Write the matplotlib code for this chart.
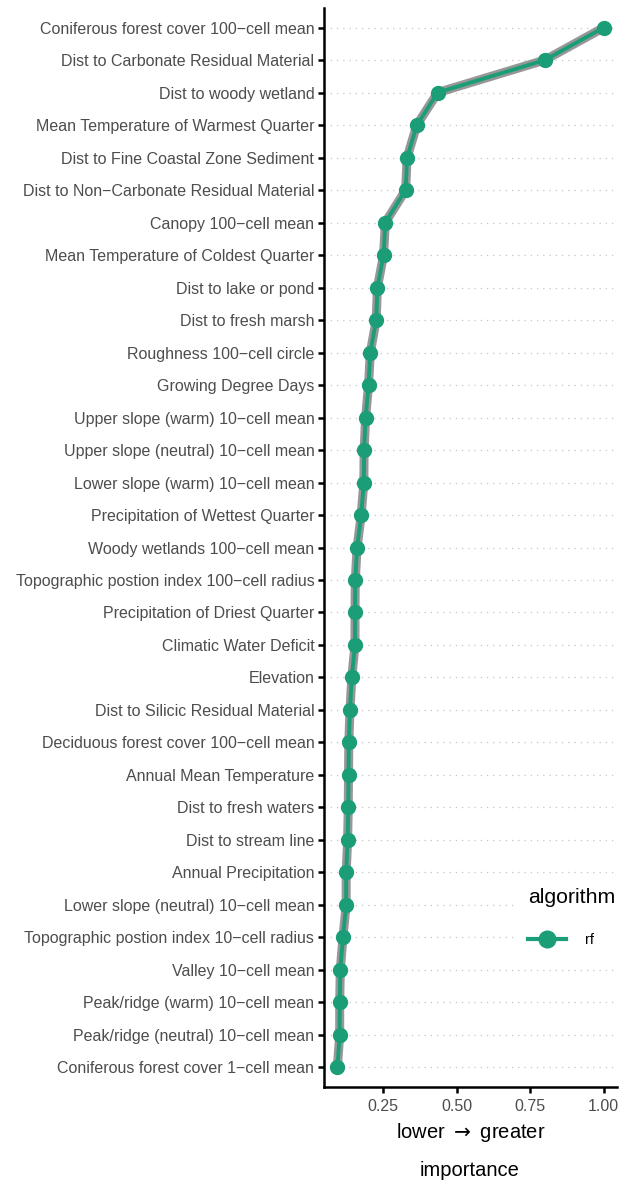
import numpy as np
import matplotlib
matplotlib.use("Agg")
import matplotlib.pyplot as plt
from matplotlib.lines import Line2D

plt.rcParams['font.family'] = ['Liberation Sans', 'DejaVu Sans']

# variables, most important first
variables = [
    "Coniferous forest cover 100\u2212cell mean",
    "Dist to Carbonate Residual Material",
    "Dist to woody wetland",
    "Mean Temperature of Warmest Quarter",
    "Dist to Fine Coastal Zone Sediment",
    "Dist to Non\u2212Carbonate Residual Material",
    "Canopy 100\u2212cell mean",
    "Mean Temperature of Coldest Quarter",
    "Dist to lake or pond",
    "Dist to fresh marsh",
    "Roughness 100\u2212cell circle",
    "Growing Degree Days",
    "Upper slope (warm) 10\u2212cell mean",
    "Upper slope (neutral) 10\u2212cell mean",
    "Lower slope (warm) 10\u2212cell mean",
    "Precipitation of Wettest Quarter",
    "Woody wetlands 100\u2212cell mean",
    "Topographic postion index 100\u2212cell radius",
    "Precipitation of Driest Quarter",
    "Climatic Water Deficit",
    "Elevation",
    "Dist to Silicic Residual Material",
    "Deciduous forest cover 100\u2212cell mean",
    "Annual Mean Temperature",
    "Dist to fresh waters",
    "Dist to stream line",
    "Annual Precipitation",
    "Lower slope (neutral) 10\u2212cell mean",
    "Topographic postion index 10\u2212cell radius",
    "Valley 10\u2212cell mean",
    "Peak/ridge (warm) 10\u2212cell mean",
    "Peak/ridge (neutral) 10\u2212cell mean",
    "Coniferous forest cover 1\u2212cell mean",
]

importance = [1.000, 0.800, 0.436, 0.365, 0.332, 0.327, 0.258, 0.252,
              0.231, 0.227, 0.207, 0.201, 0.191, 0.186, 0.185, 0.176,
              0.162, 0.156, 0.155, 0.155, 0.144, 0.138, 0.134, 0.133,
              0.132, 0.130, 0.125, 0.125, 0.114, 0.105, 0.103, 0.103,
              0.095]

xticks = [0.25, 0.50, 0.75, 1.00]
xticklabels = ["0.25", "0.50", "0.75", "1.00"]

green = "#1B9E77"
grey30 = "#4D4D4D"

fig = plt.figure(figsize=(6.31, 11.82), dpi=100)
ax = fig.add_axes([0.5135, 0.0804, 0.4645, 0.9128])

n = len(variables)
ypos = np.arange(n)[::-1]

# dotted horizontal guides
for y in ypos:
    ax.axhline(y, color="#C4C4C4", lw=0.9, ls=(0, (1, 4)), zorder=0)

ax.plot(importance, ypos, color="#8C8C8C", lw=6.5, alpha=0.9,
        solid_capstyle="round", solid_joinstyle="round", zorder=2)
ax.plot(importance, ypos, color=green, lw=2.8, marker="o", ms=10,
        solid_joinstyle="round", zorder=3)

ax.set_yticks(ypos)
ax.set_yticklabels(variables, fontsize=11.5, color=grey30)
ax.set_xticks(xticks)
ax.set_xticklabels(xticklabels, fontsize=11.5, color=grey30)

lo, hi = min(importance), max(importance)
pad = (hi - lo) * 0.05
ax.set_xlim(lo - pad, hi + pad)
ax.set_ylim(-0.6, n - 1 + 0.6)

for side in ["top", "right"]:
    ax.spines[side].set_visible(False)
for side in ["left", "bottom"]:
    ax.spines[side].set_linewidth(1.8)
ax.tick_params(axis="both", length=4, width=1.8, color="black")
ax.tick_params(axis="y", pad=3)
ax.tick_params(axis="x", pad=5)

ax.set_xlabel("lower $\\rightarrow$ greater", fontsize=14.5, labelpad=5)
fig.text(0.744, 0.0015, "importance", fontsize=14.5, ha="center", va="bottom")

handle = Line2D([], [], color=green, lw=3, marker="o", ms=12)
leg = fig.legend([handle], ["rf"], title="algorithm", loc="upper left",
                 bbox_to_anchor=(0.809, 0.2633), frameon=True,
                 facecolor="white", edgecolor="white", framealpha=1,
                 fontsize=10.5, title_fontsize=15.3, handlelength=2.6,
                 borderpad=0.7, labelspacing=1.75, handletextpad=1.3,
                 fancybox=False)
leg._legend_box.align = "left"
leg.set_zorder(5)

fig.savefig("out.png", dpi=100)
